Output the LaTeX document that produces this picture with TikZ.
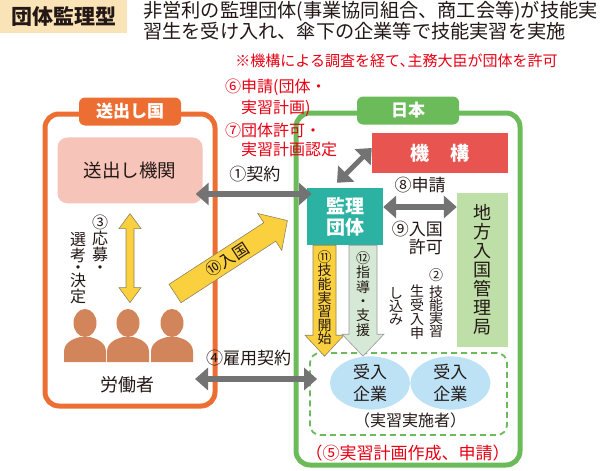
\documentclass[tikz,border=0pt]{standalone}
\usepackage{fontspec}
\setmainfont{Noto Sans CJK JP}
\usepackage{xcolor}
\usepackage{tikz}
\usetikzlibrary{arrows.meta,positioning,shapes.geometric}

\definecolor{inkC}{HTML}{231815}
\definecolor{redT}{HTML}{E60012}
\definecolor{titleBg}{HTML}{FBE3B8}
\definecolor{orgF}{HTML}{EC6E32}
\definecolor{pinkBox}{HTML}{F7C4BA}
\definecolor{personC}{HTML}{D2855A}
\definecolor{yelA}{HTML}{FAD03E}
\definecolor{yelEdge}{HTML}{8E8462}
\definecolor{grayA}{HTML}{737373}
\definecolor{greenF}{HTML}{6CBB5A}
\definecolor{redBox}{HTML}{E8544F}
\definecolor{tealBox}{HTML}{2BB2A3}
\definecolor{ltGreen}{HTML}{BFDFA9}
\definecolor{ltBlue}{HTML}{BDE2F5}
\definecolor{paleGreen}{HTML}{D5E9D6}

\newcommand{\fsz}[2]{\fontsize{#1}{#2}\selectfont}

\begin{document}
\begin{tikzpicture}[x=1pt, y=-1pt,
    txt/.style={inner sep=0pt, text=inkC},
    redtxt/.style={inner sep=0pt, text=redT},
    tate/.style={inner sep=0pt, text=inkC, align=center},
    regionbox/.style={draw=#1, line width=5pt, rounded corners=14pt, inner sep=0pt},
    regiontab/.style={fill=#1, rounded corners=6pt, minimum width=102pt, minimum height=28pt, inner sep=0pt, text=white, font=\bfseries\fsz{17}{17}},
    fillbox/.style={fill=#1, inner sep=0pt, align=center},
    dbl/.style={draw=grayA, line width=6pt, {Triangle[width=22pt,length=13pt]}-{Triangle[width=22pt,length=13pt]}},
    yarrow/.style={fill=yelA, draw=yelEdge, line width=0.6pt},
  ]
  \useasboundingbox (0,0) rectangle (600,471);

  % titolo e descrizione
  \node[fillbox=titleBg, anchor=north west, minimum width=127pt, minimum height=33pt, text=inkC, font=\bfseries\fsz{21}{21}] (title) at (0,0) {団体監理型};
  \node[txt, anchor=west, align=left, font=\fsz{19.2}{21}] (desc) at (143,20.5) {非営利の監理団体(事業協同組合、商工会等)が技能実\\習生を受け入れ、傘下の企業等で技能実習を実施};
  \node[redtxt, font=\fsz{15}{15}] (note) at (396.5,61) {※機構による調査を経て､主務大臣が団体を許可};

  % cornici dei due paesi
  \node[regionbox=orgF, minimum width=170pt, minimum height=292pt] (okuriF) at (130,260) {};
  \node[regionbox=greenF, minimum width=224pt, minimum height=352pt] (nihonF) at (408,289) {};
  \node[regiontab=orgF] (okuriT) at (okuriF.north) {送出し国};
  \node[regiontab=greenF] (nihonT) at (nihonF.north) {日本};

  % freccia ⑩
  \begin{scope}[shift={(175,293.5)}, rotate=33]
    \draw[yarrow] (0,-11) -- (113,-11) -- (113,-22) -- (134,0) -- (113,22) -- (113,11) -- (0,11) -- cycle;
    \node[txt, rotate=33, font=\fsz{16}{16}] (nyukoku) at (62,0) {⑩入国};
  \end{scope}

  % riquadri
  \node[fillbox=pinkBox, rounded corners=10pt, minimum width=145pt, minimum height=66pt, text=inkC, font=\fsz{18.5}{18.5}, below=11.5pt of okuriT] (okuri) {送出し機関};
  \node[fillbox=redBox, minimum width=136pt, minimum height=40pt, text=white, font=\bfseries\fsz{19}{19}] (kikou) at (440,153) {機\hspace{1.1em}構};
  \node[fillbox=tealBox, minimum width=76pt, minimum height=57pt, text=white, font=\bfseries\fsz{19}{21}] (kanri) at (345,216.5) {監理\\団体};
  \node[fillbox=ltGreen, minimum width=51pt, minimum height=154pt, text=inkC, font=\fsz{18}{19}] (chihou) at (482.5,270) {地\\方\\入\\国\\管\\理\\局};

  % imprese riceventi
  \node[draw=greenF, line width=1.8pt, dash pattern=on 6pt off 4pt, rounded corners=10pt, minimum width=197pt, minimum height=82pt, inner sep=0pt] (jisshi) at (408.5,394) {};
  \node[ellipse, fillbox=ltBlue, minimum width=80pt, minimum height=50pt, text=inkC, font=\fsz{17}{22}] (uke1) at (370,383) {受入\\企業};
  \node[ellipse, fillbox=ltBlue, minimum width=80pt, minimum height=50pt, text=inkC, font=\fsz{17}{22}, right=0pt of uke1] (uke2) {受入\\企業};
  \node[txt, font=\fsz{16}{16}] (jisshiL) at (410,420) {（実習実施者）};
  \node[redtxt, font=\fsz{17}{17}] (sakusei) at (407.5,453) {（⑤実習計画作成、申請）};

  % lavoratori
  \foreach \px in {85,128,172} {
    \fill[personC] (\px,323) ellipse [x radius=11.5pt, y radius=14pt];
    \fill[personC] ({\px-21},362) -- ({\px-21},352) .. controls ({\px-21},343) and ({\px-13},339) .. ({\px-5},337) -- ({\px+5},337) .. controls ({\px+13},339) and ({\px+21},343) .. ({\px+21},352) -- ({\px+21},362) -- cycle;
  }
  \node[txt, font=\fsz{18}{18}] (roudou) at (127,385) {労働者};

  % frecce grigie
  \coordinate (yKeiyaku) at (0,194);
  \coordinate (yShinsei) at (0,207);
  \coordinate (yKoyou) at (0,379);
  \draw[dbl, shorten <=-7pt, shorten >=-5pt] (okuri.east |- yKeiyaku) -- (kanri.west |- yKeiyaku)
    node[midway, above=9.5pt, txt, font=\fsz{17}{17}] (keiyaku) {①契約};
  \draw[dbl, shorten <=-22.5pt, shorten >=-8pt] (okuriF.east |- yKoyou) -- (jisshi.west |- yKoyou)
    node[pos=0.34, above=10.5pt, txt, font=\fsz{17}{17}] (koyou) {④雇用契約};
  \draw[dbl] (kanri.east |- yShinsei) -- (chihou.west |- yShinsei)
    node[midway, above=11.5pt, txt, font=\fsz{17}{17}] (shinsei8) {⑧申請};
  \draw[dbl, line width=5pt] ([xshift=-8pt, yshift=5pt]kanri.north) -- ([yshift=5pt]kikou.west);
  \node[txt, anchor=north east, align=right, font=\fsz{17}{18}] (kyoka9) at (443,220.5) {⑨入国\\許可};

  % ③ freccia gialla e testo verticale
  \begin{scope}[shift={(okuri.south)}]
    \draw[yarrow] (0,10) -- (11,25) -- (4,25) -- (4,84) -- (11,84) -- (0,99) -- (-11,84) -- (-4,84) -- (-4,25) -- (-11,25) -- cycle;
  \end{scope}
  \node[tate, anchor=north, font=\fsz{16}{16}] (oubo) at (100,215) {③\\応\\募\\[-3.5pt]・};
  \node[tate, anchor=north, font=\fsz{16}{16}] (senkou) at (78,232) {選\\考\\[-3.5pt]・\\[-3.5pt]決\\定};

  % ⑪ ⑫ frecce verso le imprese
  \begin{scope}[shift={(kanri.south)}]
    \draw[yarrow] (-32,0) -- (-9,0) -- (-9,90) -- (-1,90) -- (-20.5,111) -- (-40,90) -- (-32,90) -- cycle;
    \draw[fill=paleGreen, draw=gray!80, line width=0.6pt] (4,0) -- (32,0) -- (32,89) -- (39,89) -- (18,111) -- (-3,89) -- (4,89) -- cycle;
    \node[tate, anchor=north, font=\fsz{14}{13.6}] (kaishi) at (-20.5,5) {⑪\\技\\能\\実\\習\\開\\始};
    \node[tate, anchor=north, font=\fsz{14}{14.4}] (shidou) at (18,6) {⑫\\指\\導\\・\\支\\援};
  \end{scope}

  % ② testo verticale
  \node[tate, anchor=north, font=\fsz{14}{13.2}] (moushi1) at (436,268) {②\\[4pt]技\\能\\実\\習};
  \node[tate, anchor=north, font=\fsz{14}{14}] (moushi2) at (417,285) {生\\受\\入\\申};
  \node[tate, anchor=north, font=\fsz{14}{13}] (moushi3) at (396,287) {し\\込\\み};

  % ⑥ ⑦ testo rosso
  \node[redtxt, anchor=north west, align=left, font=\fsz{16}{21}] (shinsei6) at (225,79) {⑥申請(団体・\\\phantom{⑥}実習計画)};
  \node[redtxt, below=6pt of shinsei6.south west, anchor=north west, align=left, font=\fsz{16}{19}] (nintei7) {⑦団体許可・\\\phantom{⑦}実習計画認定};
\end{tikzpicture}
\end{document}
